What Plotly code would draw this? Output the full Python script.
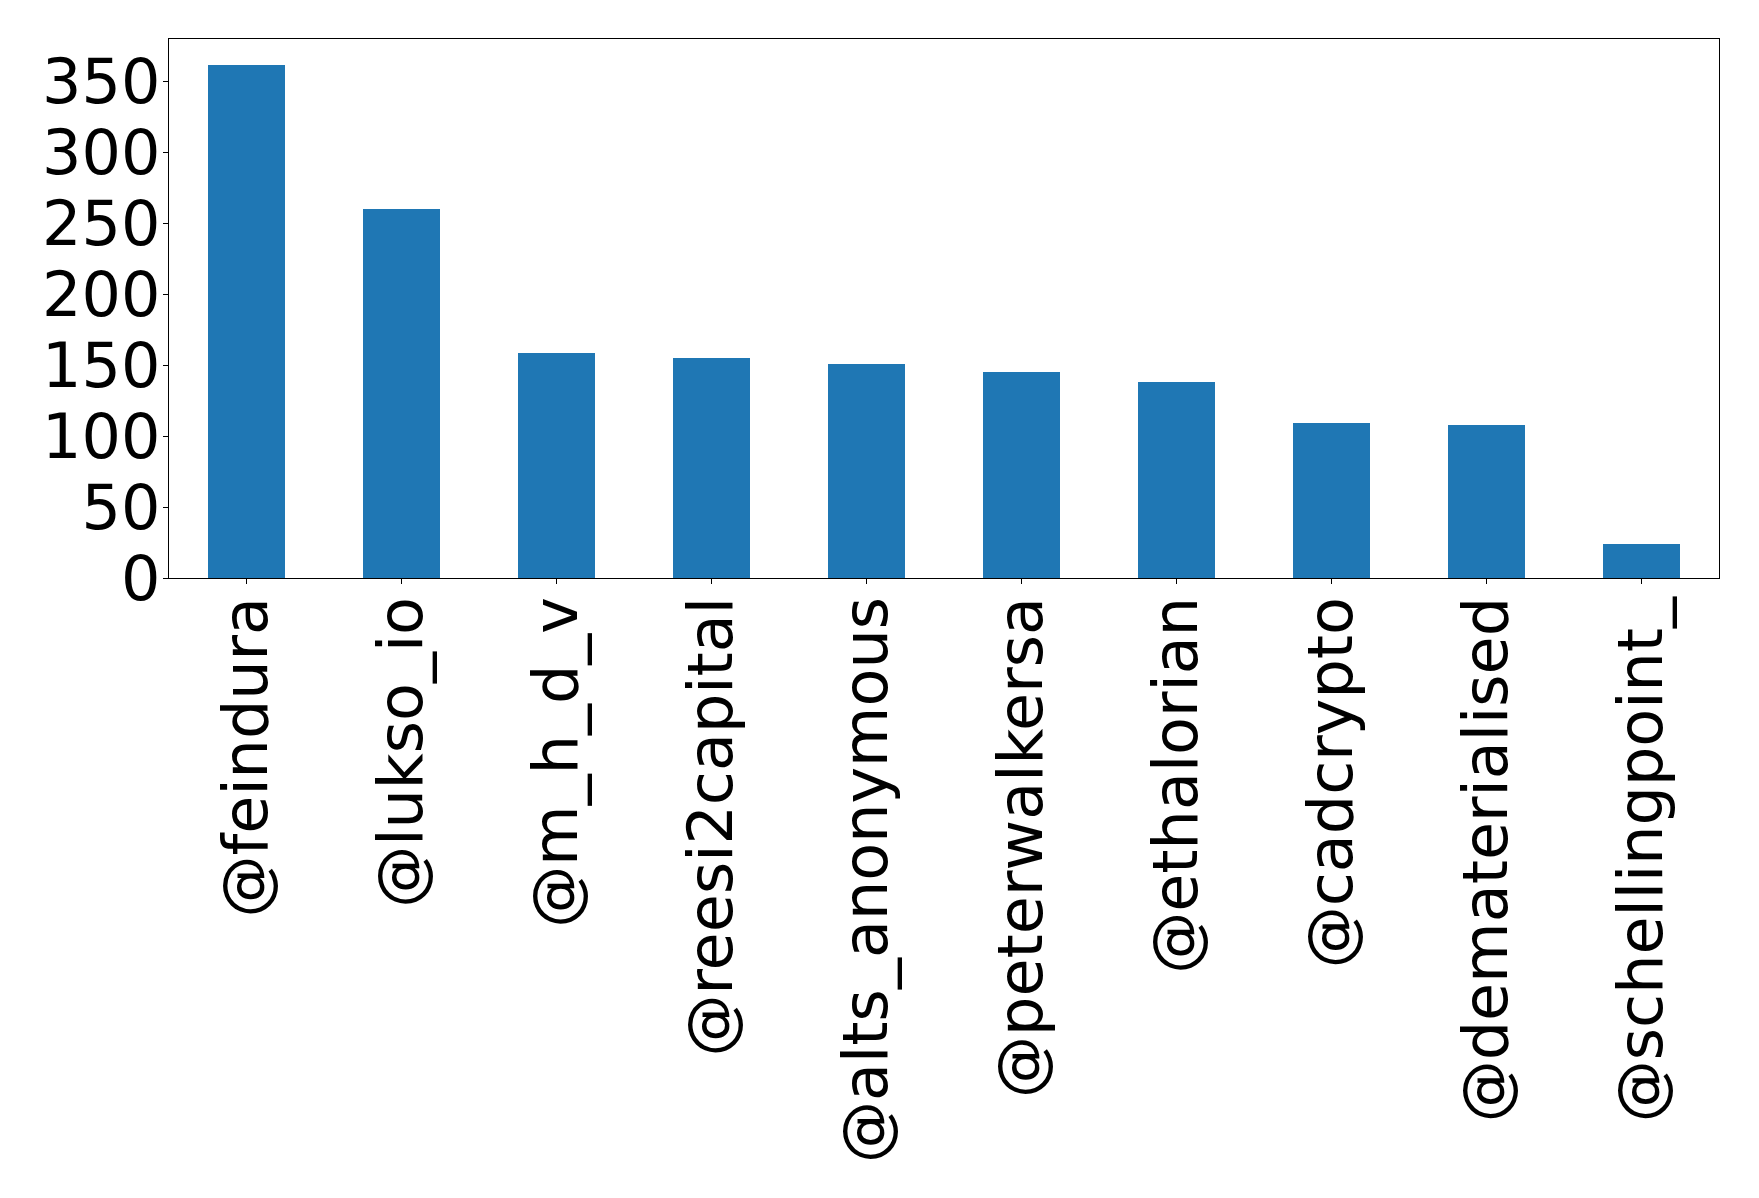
import plotly.graph_objects as go

categories = ["@feindura", "@lukso_io", "@m_h_d_v", "@reesi2capital", "@alts_anonymous",
              "@peterwalkersa", "@ethalorian", "@cadcrypto", "@dematerialised", "@schellingpoint_"]
values = [362, 260, 159, 155, 151, 145, 138, 109, 108, 24]
y_ticks = [0, 50, 100, 150, 200, 250, 300, 350]

fig = go.Figure(go.Bar(
    x=list(range(len(categories))), y=values, width=0.5,
    marker=dict(color="#1f77b4", line=dict(width=0)),
))

font = dict(family="DejaVu Sans", size=62, color="black")
fig.update_layout(
    width=1759, height=1198,
    margin=dict(l=161, r=48, t=31, b=628, autoexpand=False),
    plot_bgcolor="white", paper_bgcolor="white",
    showlegend=False, bargap=0,
    font=font,
)
fig.update_xaxes(
    range=[-0.5, len(categories) - 0.5],
    tickmode="array", tickvals=list(range(len(categories))), ticktext=categories,
    tickangle=-90, tickfont=font, automargin=False, ticklabelstandoff=-12,
    showline=True, linecolor="black", linewidth=1.3, mirror=True,
    ticks="outside", ticklen=5, tickwidth=1.3, tickcolor="black",
    showgrid=False, zeroline=False,
)
fig.update_yaxes(
    range=[0, max(values) * 1.05],
    tickmode="array", tickvals=y_ticks, ticktext=[str(v) for v in y_ticks],
    tickfont=font, automargin=False, ticklabelstandoff=-10,
    showline=True, linecolor="black", linewidth=1.3, mirror=True,
    ticks="outside", ticklen=5, tickwidth=1.3, tickcolor="black",
    showgrid=False, zeroline=False,
)
fig.write_html("out.html")
